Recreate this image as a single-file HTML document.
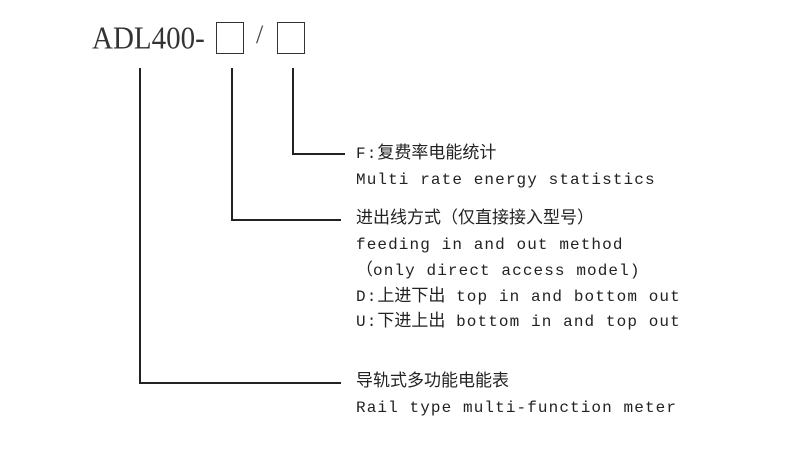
<!DOCTYPE html>
<html><head><meta charset="utf-8"><style>
body{margin:0;width:805px;height:456px;background:#fff;position:relative;overflow:hidden;font-family:"Liberation Mono","Noto Sans CJK SC",monospace;color:#222}
.l{position:absolute;background:#222}
.t{position:absolute;left:356px;white-space:nowrap;font-size:16px;letter-spacing:1.1px;line-height:20px}
.c{font-family:"Liberation Sans","Noto Sans CJK SC",sans-serif;font-size:17px;letter-spacing:0}
.box{position:absolute;border:1.5px solid #333;box-sizing:border-box}
</style></head><body>
<div style="position:absolute;left:92px;top:19px;font-family:'Liberation Serif',serif;font-size:29px;line-height:36px;transform:scaleY(1.1);transform-origin:0 0;color:#333">ADL400-</div>
<div class="box" style="left:216px;top:22px;width:28px;height:32px"></div>
<div style="position:absolute;left:256px;top:20px;font-size:26px;font-family:'Liberation Serif',serif;color:#444">/</div>
<div class="box" style="left:277px;top:22px;width:28px;height:32px"></div>

<div class="l" style="left:139px;top:68px;width:1.5px;height:315px"></div>
<div class="l" style="left:139px;top:382px;width:202px;height:1.5px"></div>
<div class="l" style="left:231px;top:68px;width:1.5px;height:152px"></div>
<div class="l" style="left:231px;top:219px;width:110px;height:1.5px"></div>
<div class="l" style="left:292px;top:68px;width:1.5px;height:86px"></div>
<div class="l" style="left:292px;top:153px;width:53px;height:1.5px"></div>

<div class="t" style="top:143px">F:<span class="c">复费率电能统计</span></div>
<div class="t" style="top:170px">Multi rate energy statistics</div>
<div class="t" style="top:208px"><span class="c">进出线方式（仅直接接入型号）</span></div>
<div class="t" style="top:235px">feeding in and out method</div>
<div class="t" style="top:260px"><span class="c">（</span>only direct access model)</div>
<div class="t" style="top:286px">D:<span class="c">上进下出</span> top in and bottom out</div>
<div class="t" style="top:311px">U:<span class="c">下进上出</span> bottom in and top out</div>
<div class="t" style="top:371px"><span class="c">导轨式多功能电能表</span></div>
<div class="t" style="top:398px">Rail type multi-function meter</div>
</body></html>
